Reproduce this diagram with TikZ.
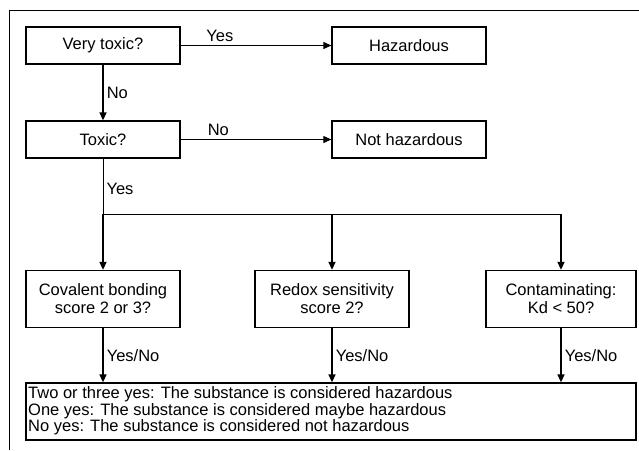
\documentclass[tikz,border=0pt]{standalone}
\usepackage{fontspec}
\setmainfont{Liberation Sans}
\usetikzlibrary{arrows.meta}
\begin{document}
\begin{tikzpicture}[x=1pt,y=-1pt,
  font=\fontsize{16.5}{18}\selectfont,
  box/.style={draw, line width=1.3pt, inner sep=0pt, align=center,
    minimum width=154pt},
  smallbox/.style={box, minimum height=37pt},
  tallbox/.style={box, minimum height=57pt},
  flow/.style={line width=1.5pt, -{Triangle[length=8pt,width=7pt]}},
  link/.style={line width=1pt},
  lbl/.style={inner sep=0pt}]
  \useasboundingbox (0,0) rectangle (639,450);
  % frame around the chart
  \draw[line width=0.7pt] (9,450) -- (9,10) -- (639,10);

  % first screening step
  \node[smallbox] (very) at (103,45.5) {Very toxic?};
  \node[smallbox] (haz) at (409,45.5) {Hazardous};
  \node[smallbox] (toxic) at (103,139.5) {Toxic?};
  \node[smallbox] (nothaz) at (409,139.5) {Not hazardous};

  \draw[link,-{Triangle[length=8pt,width=7pt]}] (very.east) -- (haz.west)
    node[lbl, pos=0.26, above=3pt] {Yes};
  \draw[flow] (very.south) -- (toxic.north)
    node[lbl, midway, right=3pt] {No};
  \draw[link,-{Triangle[length=8pt,width=7pt]}] (toxic.east) -- (nothaz.west)
    node[lbl, pos=0.25, above=3pt] {No};

  % three criteria
  \node[tallbox] (cov) at (103,299) {Covalent bonding\\score 2 or 3?};
  \node[tallbox] (redox) at (332,299) {Redox sensitivity\\score 2?};
  \node[tallbox, minimum width=150pt] (cont) at (561,299) {Contaminating:\\Kd < 50?};

  \coordinate (j1) at (103,214);
  \coordinate (j2) at (332,214);
  \coordinate (j3) at (561,214);
  \draw[link] (toxic.south) -- (j1) node[lbl, pos=0.55, right=3pt] {Yes};
  \draw[link] (j1) -- (j3);
  \draw[flow] (j1) -- (cov.north);
  \draw[flow] (j2) -- (redox.north);
  \draw[flow] (j3) -- (cont.north);

  % combined outcome
  \node[draw, line width=1.3pt, inner sep=0pt, minimum width=610pt,
    minimum height=57pt] (result) at (331,411.5) {};
  \node[lbl, anchor=north west, align=left,
    font=\fontsize{16.5}{16.5}\selectfont] (rtext) at (28,386.5)
    {Two or three yes: The substance is considered hazardous\\
     One yes: The substance is considered maybe hazardous\\
     No yes: The substance is considered not hazardous};

  \draw[flow] (cov.south) -- (cov.south |- result.north)
    node[lbl, midway, right=3pt] {Yes/No};
  \draw[flow] (redox.south) -- (redox.south |- result.north)
    node[lbl, midway, right=3pt] {Yes/No};
  \draw[flow] (cont.south) -- (cont.south |- result.north)
    node[lbl, midway, right=3pt] {Yes/No};
\end{tikzpicture}
\end{document}
